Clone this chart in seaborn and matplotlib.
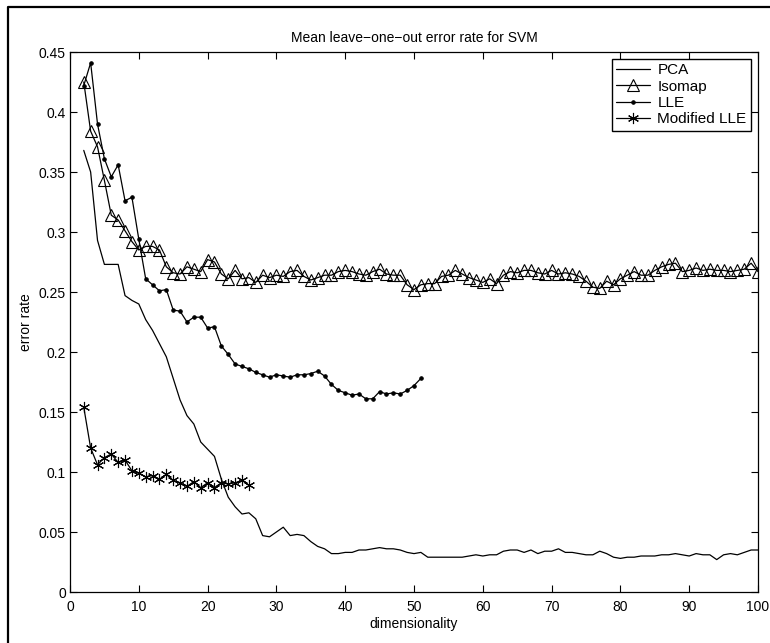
import numpy as np
import matplotlib
matplotlib.use("Agg")
import matplotlib.pyplot as plt
import matplotlib.ticker as mticker
from matplotlib.lines import Line2D
import seaborn as sns

# ── data ────────────────────────────────────────────────────────────────────
pca_dims = list(range(2, 101))
pca_err = [
    0.368, 0.350, 0.293, 0.273, 0.273, 0.273, 0.247, 0.243, 0.240, 0.227,
    0.218, 0.207, 0.196, 0.178, 0.160, 0.147, 0.140, 0.125, 0.119, 0.113,
    0.094, 0.079, 0.071, 0.065, 0.066, 0.061, 0.047, 0.046, 0.050, 0.054,
    0.047, 0.048, 0.047, 0.042, 0.038, 0.036, 0.032, 0.032, 0.033, 0.033,
    0.035, 0.035, 0.036, 0.037, 0.036, 0.036, 0.035, 0.033, 0.032, 0.033,
    0.029, 0.029, 0.029, 0.029, 0.029, 0.029, 0.030, 0.031, 0.030, 0.031,
    0.031, 0.034, 0.035, 0.035, 0.033, 0.035, 0.032, 0.034, 0.034, 0.036,
    0.033, 0.033, 0.032, 0.031, 0.031, 0.034, 0.032, 0.029, 0.028, 0.029,
    0.029, 0.030, 0.030, 0.030, 0.031, 0.031, 0.032, 0.031, 0.030, 0.032,
    0.031, 0.031, 0.027, 0.031, 0.032, 0.031, 0.033, 0.035, 0.035,
]

isomap_dims = list(range(2, 101))
isomap_err = [
    0.425, 0.384, 0.371, 0.343, 0.314, 0.310, 0.301, 0.292, 0.285, 0.288,
    0.288, 0.285, 0.271, 0.266, 0.265, 0.271, 0.269, 0.267, 0.277, 0.275,
    0.265, 0.261, 0.268, 0.261, 0.262, 0.258, 0.264, 0.262, 0.264, 0.263,
    0.267, 0.268, 0.263, 0.260, 0.262, 0.264, 0.264, 0.267, 0.268, 0.267,
    0.265, 0.264, 0.267, 0.269, 0.265, 0.264, 0.264, 0.256, 0.252, 0.256,
    0.257, 0.257, 0.263, 0.264, 0.268, 0.265, 0.262, 0.260, 0.258, 0.261,
    0.257, 0.264, 0.267, 0.266, 0.268, 0.268, 0.266, 0.265, 0.268, 0.265,
    0.266, 0.265, 0.263, 0.259, 0.254, 0.253, 0.259, 0.256, 0.261, 0.264,
    0.267, 0.264, 0.264, 0.268, 0.271, 0.273, 0.274, 0.267, 0.268, 0.270,
    0.268, 0.269, 0.268, 0.268, 0.267, 0.268, 0.269, 0.274, 0.267,
]

lle_dims = list(range(2, 52))
lle_err = [
    0.422, 0.441, 0.390, 0.361, 0.346, 0.356, 0.326, 0.329, 0.294, 0.261,
    0.256, 0.251, 0.252, 0.235, 0.234, 0.225, 0.229, 0.229, 0.220, 0.221,
    0.205, 0.198, 0.190, 0.188, 0.186, 0.183, 0.181, 0.179, 0.181, 0.180,
    0.179, 0.181, 0.181, 0.182, 0.184, 0.180, 0.173, 0.168, 0.166, 0.164,
    0.165, 0.161, 0.161, 0.167, 0.165, 0.166, 0.165, 0.168, 0.172, 0.178,
]

mlle_dims = list(range(2, 27))
mlle_err = [
    0.154, 0.120, 0.106, 0.112, 0.115, 0.108, 0.110, 0.101, 0.099, 0.096,
    0.097, 0.094, 0.098, 0.093, 0.091, 0.088, 0.092, 0.087, 0.091, 0.087,
    0.091, 0.090, 0.091, 0.093, 0.089,
]

x_ticks = [0, 10, 20, 30, 40, 50, 60, 70, 80, 90, 100]
y_ticks = [0, 0.05, 0.1, 0.15, 0.2, 0.25, 0.3, 0.35, 0.4, 0.45]

# ── style ───────────────────────────────────────────────────────────────────
sns.set_theme(style="ticks")
plt.rcParams["font.family"] = ["Liberation Sans", "DejaVu Sans"]
plt.rcParams.update({
    "axes.linewidth": 0.9,
    "axes.edgecolor": "black",
    "text.color": "black",
    "axes.labelcolor": "black",
    "xtick.color": "black",
    "ytick.color": "black",
})

fig = plt.figure(figsize=(7.7, 6.43), dpi=100)
ax = fig.add_axes([70 / 770, 1 - 592 / 643, 688 / 770, 540 / 643])

asterisk = (6, 2, 0)

sns.lineplot(x=pca_dims, y=pca_err, ax=ax, color="black", linewidth=0.9,
             label="PCA")
sns.lineplot(x=isomap_dims, y=isomap_err, ax=ax, color="black", linewidth=0.9,
             marker="^", markersize=9, markerfacecolor="none",
             markeredgecolor="black", markeredgewidth=0.8, label="Isomap")
sns.lineplot(x=lle_dims, y=lle_err, ax=ax, color="black", linewidth=0.9,
             marker="o", markersize=2.5, markerfacecolor="black",
             markeredgecolor="black", label="LLE")
sns.lineplot(x=mlle_dims, y=mlle_err, ax=ax, color="black", linewidth=0.9,
             marker=asterisk, markersize=8, markeredgecolor="black",
             markeredgewidth=0.8, label="Modified LLE")

ax.set_xlim(0, 100)
ax.set_ylim(0, 0.45)
ax.set_xticks(x_ticks)
ax.set_yticks(y_ticks)
ax.yaxis.set_major_formatter(mticker.FuncFormatter(lambda v, p: f"{v:g}"))
ax.tick_params(direction="in", top=True, right=True, length=5, width=0.8,
               labelsize=10)
ax.tick_params(axis="x", pad=6)
ax.tick_params(axis="y", pad=3)
for s in ax.spines.values():
    s.set_visible(True)
    s.set_linewidth(0.9)

ax.set_title("Mean leave\u2212one\u2212out error rate for SVM", fontsize=10, pad=7)
ax.set_xlabel("dimensionality", fontsize=10, labelpad=2)
ax.set_ylabel("error rate", fontsize=10, labelpad=4)

leg = ax.legend(loc="upper right", fontsize=11, frameon=True, fancybox=False,
                edgecolor="black", framealpha=1, borderaxespad=0.45,
                handlelength=2.2, borderpad=0.3, labelspacing=0.15,
                handletextpad=0.5)
leg.get_frame().set_linewidth(1.0)

# outer figure border (left and top visible in the reference)
fig.add_artist(Line2D([8 / 770, 8 / 770, 1.0], [0.0, 1 - 7 / 643, 1 - 7 / 643],
                      transform=fig.transFigure, color="black", linewidth=1.6))

fig.savefig("out.png", dpi=100)
